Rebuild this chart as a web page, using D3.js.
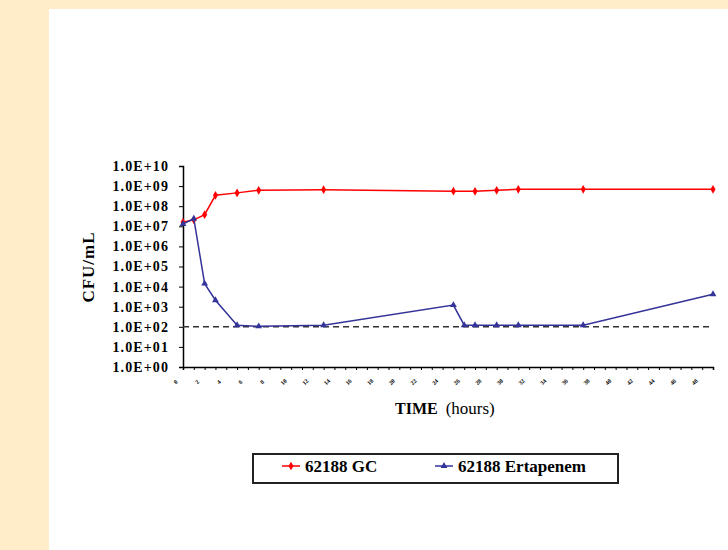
<!DOCTYPE html>
<html>
<head>
<meta charset="utf-8">
<script src="https://cdn.jsdelivr.net/npm/d3@7"></script>
<style>
  body { margin: 0; background: #fff; }
  svg { display: block; }
  .axis text { font-family: "Liberation Serif", "Times New Roman", serif; fill: #000; }
  .axis path, .axis line { stroke: #000; }
</style>
</head>
<body>
<div id="chart"></div>
<script>
// sampling times (hours)
const gcHours = [0, 1, 2, 3, 5, 7, 13, 25, 27, 29, 31, 37, 49];
const gcCfu = [1.6e7, 2.1e7, 3.8e7, 3.5e8, 4.6e8, 6.2e8, 6.6e8, 5.6e8, 5.5e8, 6.2e8, 6.9e8, 6.9e8, 6.9e8];

const ertHours = [0, 1, 2, 3, 5, 7, 13, 25, 26, 27, 29, 31, 37, 49];
const ertCfu = [1.3e7, 2.4e7, 1.4e4, 2.1e3, 1.2e2, 1.05e2, 1.2e2, 1.2e3, 1.2e2, 1.2e2, 1.2e2, 1.2e2, 1.2e2, 4.2e3];

const detectionLimit = 1e2;
const yExponents = [0, 1, 2, 3, 4, 5, 6, 7, 8, 9, 10];
const xTicks = d3.range(0, 50);
const seriesNames = ['62188 GC', '62188 Ertapenem'];

const W = 728, H = 550;
const plot = { left: 183, right: 713, top: 166, bottom: 367 };
const serif = '"Liberation Serif", "Times New Roman", serif';

const svg = d3.select('#chart').append('svg')
  .attr('width', W)
  .attr('height', H);

// beige frame on top and left
svg.append('rect').attr('x', 0).attr('y', 0).attr('width', W).attr('height', H).attr('fill', '#ffedca');
svg.append('rect').attr('x', 49).attr('y', 9).attr('width', W - 49).attr('height', H - 9).attr('fill', '#fff');

const x = d3.scaleLinear().domain([0, 49]).range([plot.left, plot.right]);
const y = d3.scaleLog().domain([1, 1e10]).range([plot.bottom, plot.top]);

// y axis
const yAxis = svg.append('g')
  .attr('class', 'axis')
  .attr('transform', `translate(${plot.left},0)`)
  .call(d3.axisLeft(y)
    .tickValues(yExponents.map(e => Math.pow(10, e)))
    .tickFormat(d => `1.0E+${String(Math.round(Math.log10(d))).padStart(2, '0')}`)
    .tickSize(4)
    .tickPadding(10));
yAxis.select('.domain').attr('stroke-width', 1.5);
yAxis.selectAll('text')
  .attr('font-size', '14px')
  .attr('font-weight', 'bold')
  .attr('letter-spacing', '1.1px');

// x axis
const xAxis = svg.append('g')
  .attr('class', 'axis')
  .attr('transform', `translate(0,${plot.bottom})`)
  .call(d3.axisBottom(x)
    .tickValues(xTicks)
    .tickFormat(d => d % 2 === 0 ? d : '')
    .tickSizeOuter(0)
    .tickSize(3));
xAxis.select('.domain').attr('stroke-width', 1.5);
xAxis.selectAll('text')
  .attr('font-size', '6px')
  .attr('font-weight', 'bold')
  .attr('text-anchor', 'middle')
  .attr('x', -8)
  .attr('y', 15)
  .attr('dy', '0.35em')
  .attr('transform', 'rotate(-45,-8,15)');

// detection limit
svg.append('line')
  .attr('x1', plot.left).attr('x2', plot.right)
  .attr('y1', y(detectionLimit)).attr('y2', y(detectionLimit))
  .attr('stroke', '#333')
  .attr('stroke-width', 1.5)
  .attr('stroke-dasharray', '6,4');

const line = d3.line().x(d => x(d[0])).y(d => y(d[1]));
const gcData = gcHours.map((h, i) => [h, gcCfu[i]]);
const ertData = ertHours.map((h, i) => [h, ertCfu[i]]);

const red = '#ff0000', blue = '#333399';
const diamond = d3.symbol().type(d3.symbolDiamond).size(22);
const triangle = d3.symbol().type(d3.symbolTriangle).size(20);

svg.append('path').datum(gcData)
  .attr('d', line).attr('fill', 'none').attr('stroke', red).attr('stroke-width', 1.5);
svg.append('g').selectAll('path').data(gcData).join('path')
  .attr('d', diamond)
  .attr('transform', d => `translate(${x(d[0])},${y(d[1])})`)
  .attr('fill', red);

svg.append('path').datum(ertData)
  .attr('d', line).attr('fill', 'none').attr('stroke', blue).attr('stroke-width', 1.5);
svg.append('g').selectAll('path').data(ertData).join('path')
  .attr('d', triangle)
  .attr('transform', d => `translate(${x(d[0])},${y(d[1])})`)
  .attr('fill', blue);

// axis titles
svg.append('text')
  .attr('transform', 'translate(94,267) rotate(-90)')
  .attr('text-anchor', 'middle')
  .attr('font-family', serif)
  .attr('font-weight', 'bold')
  .attr('font-size', '17px')
  .attr('letter-spacing', '1px')
  .text('CFU/mL');

const xt = svg.append('text')
  .attr('x', 395).attr('y', 414)
  .attr('font-family', serif)
  .attr('font-size', '16px');
xt.append('tspan').attr('font-weight', 'bold').text('TIME');
xt.append('tspan').attr('dx', 8).attr('font-size', '17px').text('(hours)');

// legend
const legend = svg.append('g');
legend.append('rect')
  .attr('x', 253).attr('y', 454).attr('width', 365).attr('height', 29)
  .attr('fill', '#fff').attr('stroke', '#222').attr('stroke-width', 2);

const legendItems = [
  { name: seriesNames[0], color: red, sym: diamond, x0: 282 },
  { name: seriesNames[1], color: blue, sym: triangle, x0: 435 }
];
legendItems.forEach(it => {
  legend.append('line')
    .attr('x1', it.x0).attr('x2', it.x0 + 18)
    .attr('y1', 466).attr('y2', 466)
    .attr('stroke', it.color).attr('stroke-width', 1.5);
  legend.append('path')
    .attr('d', it.sym)
    .attr('transform', `translate(${it.x0 + 9},466)`)
    .attr('fill', it.color);
  legend.append('text')
    .attr('x', it.x0 + 23).attr('y', 472)
    .attr('font-family', serif)
    .attr('font-weight', 'bold')
    .attr('font-size', '17px')
    .text(it.name);
});
</script>
</body>
</html>
